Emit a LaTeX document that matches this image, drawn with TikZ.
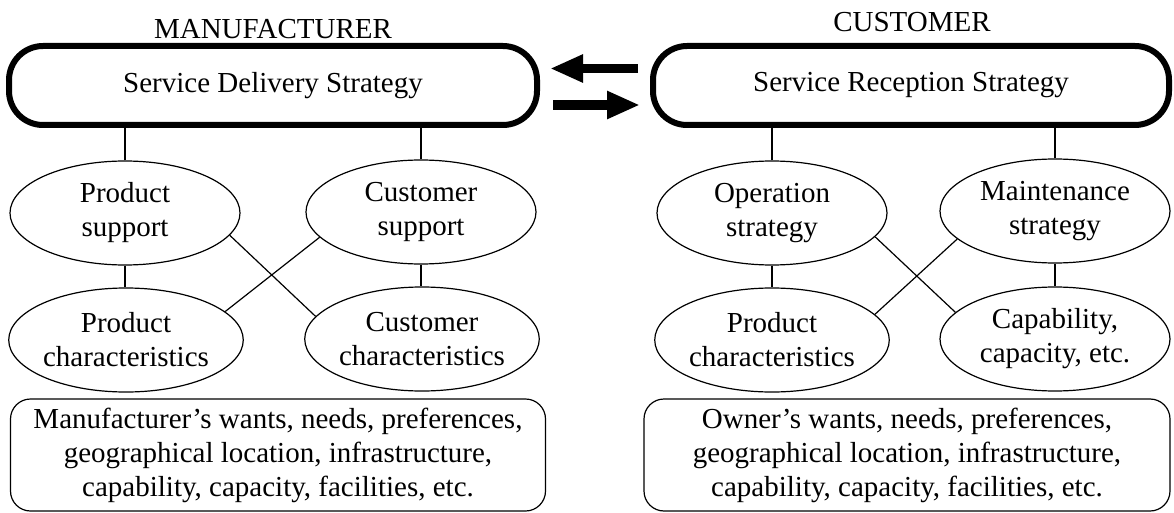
\documentclass[tikz,border=0pt]{standalone}
\usepackage{fontspec}
\setmainfont{Liberation Serif}
\usetikzlibrary{arrows.meta,shapes.geometric,calc}
\newcommand\diagfont{\fontsize{29pt}{34pt}\selectfont}
\newcommand\notefont{\fontsize{29pt}{34pt}\selectfont}
\begin{document}
\begin{tikzpicture}[x=1pt,y=-1pt,
  every node/.style={font=\diagfont, inner sep=0pt},
  strat/.style={draw, rectangle, rounded corners=34pt, line width=6pt, minimum width=#1, minimum height=79pt},
  oval/.style={draw, ellipse, line width=1.2pt, minimum width=230pt, minimum height=104pt, align=center},
  notebox/.style={draw, rectangle, rounded corners=20pt, line width=1.2pt, minimum width=#1, minimum height=112pt, align=center, font=\notefont},
  link/.style={line width=1.2pt},
  bigarrow/.style={line width=9.5pt, -{Triangle[length=33pt 0 0, width=26pt 0 0]}},
  title/.style={anchor=base}]
\useasboundingbox (0,0) rectangle (1174,513);
\node[title] (mt) at (273,39) {MANUFACTURER};
\node[title] (ct) at (912,32) {CUSTOMER};
\node[strat=528pt] (sds) at (273,85.5) {Service Delivery Strategy};
\node[strat=516pt] (srs) at (911,85.5) {Service Reception Strategy};
\node[oval] (ps) at (125,213) {Product\\support};
\node[oval] (cs) at (421,212) {Customer\\support};
\node[oval] (pc) at (126,340) {Product\\characteristics};
\node[oval] (cc) at (422,339) {Customer\\characteristics};
\node[oval] (os) at (772,213) {Operation\\strategy};
\node[oval] (ms) at (1055,211) {Maintenance\\strategy};
\node[oval] (pcb) at (772,340) {Product\\characteristics};
\node[oval] (cap) at (1055,339) {Capability,\\capacity, etc.};
\node[notebox=535pt] (mw) at (278,455) {Manufacturer's wants, needs, preferences,\\geographical location, infrastructure,\\capability, capacity, facilities, etc.};
\node[notebox=526pt] (ow) at (907,455) {Owner's wants, needs, preferences,\\geographical location, infrastructure,\\capability, capacity, facilities, etc.};
% connectors left
\draw[link] (ps.north) -- (ps.north |- sds.south);
\draw[link] (cs.north) -- (cs.north |- sds.south);
\draw[link] (ps.south) -- (ps.south |- pc.north);
\draw[link] (cs.south) -- (cs.south |- cc.north);
\draw[link] (ps.-12) -- (cc.168);
\draw[link] (cs.-166) -- (pc.16);
% connectors right
\draw[link] (os.north) -- (os.north |- srs.south);
\draw[link] (ms.north) -- (ms.north |- srs.south);
\draw[link] (os.south) -- (os.south |- pcb.north);
\draw[link] (ms.south) -- (ms.south |- cap.north);
\draw[link] (os.-13) -- (cap.165);
\draw[link] (ms.-164) -- (pcb.14);
% exchange arrows
\draw[bigarrow, shorten >=10pt, shorten <=12pt] ([yshift=17pt]srs.west) -- ([yshift=17pt]sds.east);
\draw[bigarrow, shorten >=10pt, shorten <=13pt] ([yshift=-19.5pt]sds.east) -- ([yshift=-19.5pt]srs.west);
\end{tikzpicture}
\end{document}
